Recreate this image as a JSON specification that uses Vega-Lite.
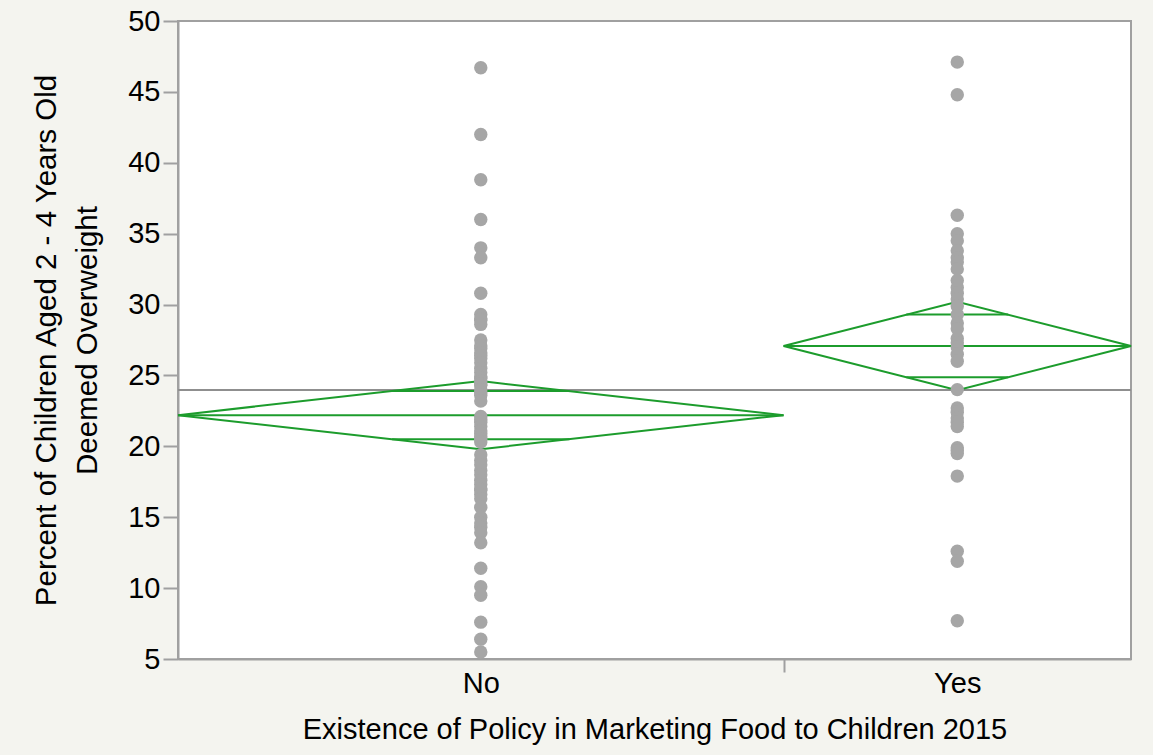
{
  "$schema": "https://vega.github.io/schema/vega-lite/v6.json",
  "width": 953,
  "height": 638,
  "autosize": "none",
  "padding": {"left": 178, "top": 21, "right": 22, "bottom": 96},
  "background": "#f4f4ef",
  "config": {
    "font": "Liberation Sans",
    "view": {"fill": "white", "stroke": "#a0a0a0", "strokeWidth": 2},
    "axis": {
      "grid": false,
      "domainColor": "#a0a0a0",
      "domainWidth": 2,
      "tickColor": "#a0a0a0",
      "tickWidth": 2,
      "labelColor": "#000000",
      "titleColor": "#000000",
      "labelFont": "Liberation Sans",
      "titleFont": "Liberation Sans",
      "titleFontWeight": "normal",
      "labelFlush": false,
      "labelOverlap": false
    }
  },
  "datasets": {
    "groups": [
      {"group": "No", "center": 30.5},
      {"group": "Yes", "center": 78.5}
    ],
    "points": [
      {"group": "No", "pct": 46.7}, {"group": "No", "pct": 42.0}, {"group": "No", "pct": 38.8}, {"group": "No", "pct": 36.0},
      {"group": "No", "pct": 34.0}, {"group": "No", "pct": 33.3}, {"group": "No", "pct": 30.8}, {"group": "No", "pct": 29.3},
      {"group": "No", "pct": 29.0}, {"group": "No", "pct": 28.9}, {"group": "No", "pct": 28.6}, {"group": "No", "pct": 27.5},
      {"group": "No", "pct": 27.1}, {"group": "No", "pct": 26.9}, {"group": "No", "pct": 26.6}, {"group": "No", "pct": 26.4},
      {"group": "No", "pct": 26.2}, {"group": "No", "pct": 25.9}, {"group": "No", "pct": 25.5}, {"group": "No", "pct": 25.2},
      {"group": "No", "pct": 24.9}, {"group": "No", "pct": 24.8}, {"group": "No", "pct": 24.6}, {"group": "No", "pct": 24.4},
      {"group": "No", "pct": 24.3}, {"group": "No", "pct": 24.0}, {"group": "No", "pct": 23.8}, {"group": "No", "pct": 23.6},
      {"group": "No", "pct": 23.2}, {"group": "No", "pct": 22.1}, {"group": "No", "pct": 21.9}, {"group": "No", "pct": 21.7},
      {"group": "No", "pct": 21.4}, {"group": "No", "pct": 21.1}, {"group": "No", "pct": 20.9}, {"group": "No", "pct": 20.7},
      {"group": "No", "pct": 20.5}, {"group": "No", "pct": 20.3}, {"group": "No", "pct": 19.4}, {"group": "No", "pct": 19.0},
      {"group": "No", "pct": 18.7}, {"group": "No", "pct": 18.3}, {"group": "No", "pct": 18.0}, {"group": "No", "pct": 17.6},
      {"group": "No", "pct": 17.3}, {"group": "No", "pct": 17.0}, {"group": "No", "pct": 16.9}, {"group": "No", "pct": 16.6},
      {"group": "No", "pct": 16.3}, {"group": "No", "pct": 15.7}, {"group": "No", "pct": 15.0}, {"group": "No", "pct": 14.6},
      {"group": "No", "pct": 14.3}, {"group": "No", "pct": 13.9}, {"group": "No", "pct": 13.2}, {"group": "No", "pct": 11.4},
      {"group": "No", "pct": 10.1}, {"group": "No", "pct": 9.5}, {"group": "No", "pct": 7.6}, {"group": "No", "pct": 6.4},
      {"group": "No", "pct": 5.5},
      {"group": "Yes", "pct": 47.1}, {"group": "Yes", "pct": 44.8}, {"group": "Yes", "pct": 36.3}, {"group": "Yes", "pct": 35.0},
      {"group": "Yes", "pct": 34.5}, {"group": "Yes", "pct": 33.8}, {"group": "Yes", "pct": 33.3}, {"group": "Yes", "pct": 33.0},
      {"group": "Yes", "pct": 32.5}, {"group": "Yes", "pct": 31.7}, {"group": "Yes", "pct": 31.2}, {"group": "Yes", "pct": 30.8},
      {"group": "Yes", "pct": 30.4}, {"group": "Yes", "pct": 29.9}, {"group": "Yes", "pct": 29.3}, {"group": "Yes", "pct": 28.7},
      {"group": "Yes", "pct": 28.3}, {"group": "Yes", "pct": 27.6}, {"group": "Yes", "pct": 27.3}, {"group": "Yes", "pct": 27.0},
      {"group": "Yes", "pct": 26.5}, {"group": "Yes", "pct": 26.0}, {"group": "Yes", "pct": 24.0}, {"group": "Yes", "pct": 22.7},
      {"group": "Yes", "pct": 22.4}, {"group": "Yes", "pct": 22.0}, {"group": "Yes", "pct": 21.7}, {"group": "Yes", "pct": 21.4},
      {"group": "Yes", "pct": 19.9}, {"group": "Yes", "pct": 19.7}, {"group": "Yes", "pct": 19.5}, {"group": "Yes", "pct": 17.9},
      {"group": "Yes", "pct": 12.6}, {"group": "Yes", "pct": 11.9}, {"group": "Yes", "pct": 7.7}
    ],
    "diamond": [
      {"group": "No", "k": 0, "x": 0, "y": 22.2},
      {"group": "No", "k": 1, "x": 30.5, "y": 24.6},
      {"group": "No", "k": 2, "x": 61, "y": 22.2},
      {"group": "No", "k": 3, "x": 30.5, "y": 19.8},
      {"group": "No", "k": 4, "x": 0, "y": 22.2},
      {"group": "Yes", "k": 0, "x": 61, "y": 27.08},
      {"group": "Yes", "k": 1, "x": 78.5, "y": 30.2},
      {"group": "Yes", "k": 2, "x": 96, "y": 27.08},
      {"group": "Yes", "k": 3, "x": 78.5, "y": 23.96},
      {"group": "Yes", "k": 4, "x": 61, "y": 27.08}
    ],
    "segments": [
      {"group": "No", "kind": "mean", "x1": 0, "x2": 61, "y": 22.2},
      {"group": "No", "kind": "overlap", "x1": 21.57, "x2": 39.43, "y": 23.9},
      {"group": "No", "kind": "overlap", "x1": 21.57, "x2": 39.43, "y": 20.5},
      {"group": "Yes", "kind": "mean", "x1": 61, "x2": 96, "y": 27.08},
      {"group": "Yes", "kind": "overlap", "x1": 73.37, "x2": 83.63, "y": 29.29},
      {"group": "Yes", "kind": "overlap", "x1": 73.37, "x2": 83.63, "y": 24.87}
    ],
    "grand": [{"grand_mean": 23.98}]
  },
  "layer": [
    {
      "data": {"name": "grand"},
      "mark": {"type": "rule", "color": "#8f8f8f", "strokeWidth": 2},
      "encoding": {
        "y": {"field": "grand_mean", "type": "quantitative", "scale": {"domain": [5, 50], "nice": false, "zero": false}, "title": ["Percent of Children Aged 2 - 4 Years Old", "Deemed Overweight"]}
      }
    },
    {
      "data": {"name": "diamond"},
      "mark": {"type": "line", "color": "#1c9c2c", "strokeWidth": 2},
      "encoding": {
        "x": {"field": "x", "type": "quantitative", "scale": {"domain": [0, 96], "nice": false, "zero": false}, "title": "Existence of Policy in Marketing Food to Children 2015"},
        "y": {"field": "y", "type": "quantitative", "title": ["Percent of Children Aged 2 - 4 Years Old", "Deemed Overweight"]},
        "detail": {"field": "group"},
        "order": {"field": "k"}
      }
    },
    {
      "data": {"name": "segments"},
      "mark": {"type": "rule", "color": "#1c9c2c", "strokeWidth": 2},
      "encoding": {
        "x": {"field": "x1", "type": "quantitative", "title": "Existence of Policy in Marketing Food to Children 2015"},
        "x2": {"field": "x2"},
        "y": {"field": "y", "type": "quantitative", "title": ["Percent of Children Aged 2 - 4 Years Old", "Deemed Overweight"]}
      }
    },
    {
      "data": {"name": "points"},
      "transform": [
        {"lookup": "group", "from": {"data": {"name": "groups"}, "key": "group", "fields": ["center"]}}
      ],
      "mark": {"type": "circle", "color": "#a6a6a6", "opacity": 1, "size": 180},
      "encoding": {
        "x": {
          "field": "center",
          "type": "quantitative",
          "scale": {"domain": [0, 96], "nice": false, "zero": false},
          "title": "Existence of Policy in Marketing Food to Children 2015",
          "axis": {
            "values": [30.5, 61, 78.5],
            "labelExpr": "datum.value == 30.5 ? 'No' : (datum.value == 78.5 ? 'Yes' : '')",
            "tickSize": 13,
            "tickOpacity": {"condition": {"test": "datum.value == 61", "value": 1}, "value": 0},
            "labelFontSize": 29,
            "labelPadding": -3,
            "titleFontSize": 29,
            "titlePadding": 17
          }
        },
        "y": {
          "field": "pct",
          "type": "quantitative",
          "scale": {"domain": [5, 50], "nice": false, "zero": false},
          "title": ["Percent of Children Aged 2 - 4 Years Old", "Deemed Overweight"],
          "axis": {
            "values": [5, 10, 15, 20, 25, 30, 35, 40, 45, 50],
            "tickSize": 15,
            "labelFontSize": 29,
            "labelPadding": 3,
            "titleFontSize": 29.5,
            "titleLineHeight": 41,
            "titlePadding": 25
          }
        }
      }
    }
  ]
}
